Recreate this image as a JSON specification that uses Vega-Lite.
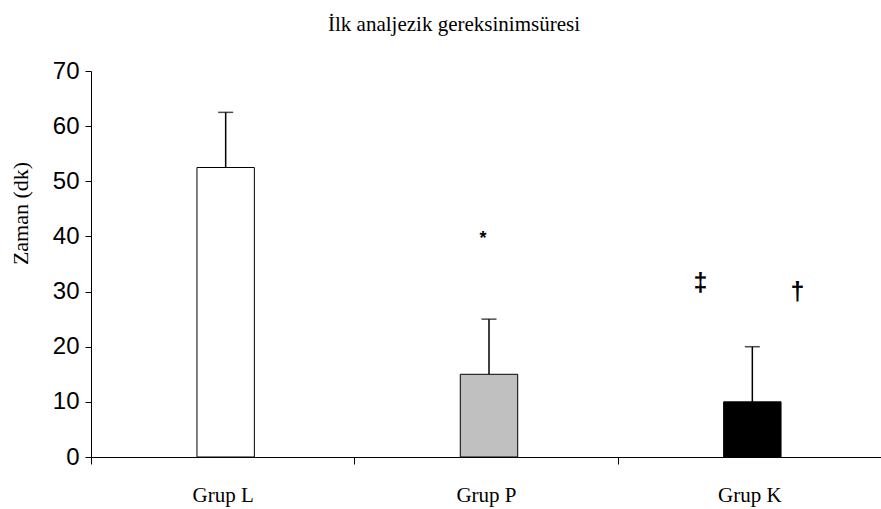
{
  "$schema": "https://vega.github.io/schema/vega-lite/v6.json",
  "width": 790,
  "height": 386,
  "autosize": {"type": "none"},
  "padding": {"left": 91, "top": 71, "right": 0, "bottom": 52},
  "background": "white",
  "title": {
    "text": "İlk analjezik gereksinimsüresi",
    "font": "Liberation Serif",
    "fontSize": 21,
    "fontWeight": "normal",
    "color": "black",
    "anchor": "middle",
    "dx": -32,
    "offset": 24
  },
  "config": {
    "view": {"stroke": null},
    "axis": {"grid": false, "domainColor": "black", "tickColor": "black", "labelColor": "black", "titleColor": "black"}
  },
  "data": {
    "values": [
      {"group": "Grup L", "mean": 52.5, "upper": 62.5},
      {"group": "Grup P", "mean": 15, "upper": 25},
      {"group": "Grup K", "mean": 10, "upper": 20}
    ]
  },
  "encoding": {
    "x": {
      "field": "group",
      "type": "nominal",
      "sort": ["Grup L", "Grup P", "Grup K"],
      "scale": {"paddingInner": 0, "paddingOuter": 0},
      "axis": {
        "title": null,
        "labelAngle": 0,
        "labelFont": "Liberation Serif",
        "labelFontSize": 21,
        "labelPadding": 20,
        "tickSize": 7,
        "tickBand": "extent",
        "domainWidth": 1,
        "tickWidth": 1
      }
    }
  },
  "layer": [
    {
      "mark": {"type": "bar", "width": {"band": 0.218}, "xOffset": 3, "stroke": "black", "strokeWidth": 1},
      "encoding": {
        "y": {
          "field": "mean",
          "type": "quantitative",
          "scale": {"domain": [0, 70], "nice": false},
          "axis": {
            "values": [0, 10, 20, 30, 40, 50, 60, 70],
            "title": "Zaman (dk)",
            "titleFont": "Liberation Serif",
            "titleFontSize": 22,
            "titleFontWeight": "normal",
            "titleAngle": -90,
            "titleX": -71,
            "titleY": 142,
            "titleAlign": "center",
            "titleBaseline": "middle",
            "labelFont": "Liberation Sans",
            "labelFontSize": 24,
            "labelPadding": 6,
            "tickSize": 6,
            "domainWidth": 1,
            "tickWidth": 1
          }
        },
        "color": {
          "field": "group",
          "type": "nominal",
          "scale": {"domain": ["Grup L", "Grup P", "Grup K"], "range": ["#ffffff", "#c0c0c0", "#000000"]},
          "legend": null
        }
      }
    },
    {
      "mark": {"type": "rule", "color": "black", "strokeWidth": 1.5, "xOffset": 3},
      "encoding": {
        "y": {"field": "mean", "type": "quantitative"},
        "y2": {"field": "upper"}
      }
    },
    {
      "mark": {"type": "tick", "color": "black", "thickness": 1.5, "size": 15, "xOffset": 3},
      "encoding": {
        "y": {"field": "upper", "type": "quantitative"}
      }
    },
    {
      "data": {"values": [{"group": "Grup P", "y": 40, "label": "*"}]},
      "mark": {"type": "text", "font": "Liberation Sans", "fontSize": 18, "fontWeight": "bold", "dx": -3, "dy": 3, "baseline": "middle", "color": "black"},
      "encoding": {
        "y": {"field": "y", "type": "quantitative"},
        "text": {"field": "label"}
      }
    },
    {
      "data": {"values": [{"group": "Grup K", "y": 31.5, "label": "‡"}]},
      "mark": {"type": "text", "font": "Liberation Sans", "fontSize": 25, "fontWeight": "bold", "dx": -49, "baseline": "middle", "color": "black"},
      "encoding": {
        "y": {"field": "y", "type": "quantitative"},
        "text": {"field": "label"}
      }
    },
    {
      "data": {"values": [{"group": "Grup K", "y": 30, "label": "†"}]},
      "mark": {"type": "text", "font": "Liberation Sans", "fontSize": 25, "fontWeight": "bold", "dx": 48, "baseline": "middle", "color": "black"},
      "encoding": {
        "y": {"field": "y", "type": "quantitative"},
        "text": {"field": "label"}
      }
    }
  ]
}
